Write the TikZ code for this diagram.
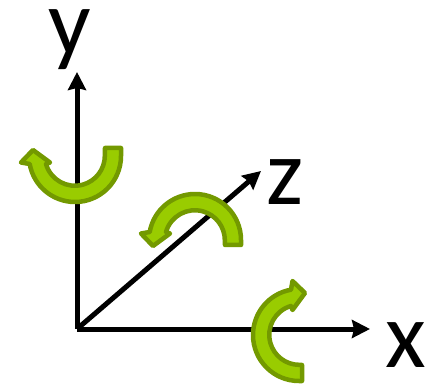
\documentclass[tikz,border=0pt]{standalone}
\usepackage{fontspec}
\setmainfont{Carlito}
\usetikzlibrary{arrows.meta}
\tikzset{
  axis/.style={line width=5pt, -{Stealth[length=18pt,width=18pt,inset=2pt]}},
  axislabel/.style={inner sep=0pt, font=\fontsize{94}{94}\selectfont},
  % one bent arrow, #1 is the length of the straight tail
  turn/.pic={
    \draw[line width=4.5pt, line join=round, draw=turnedge, fill=turnfill]
    (46,#1) -- (46,0) arc[start angle=0, end angle=-170, radius=46]
    -- (-54,-6.5) -- (-42,6) -- (-25,-6.5) -- (-29,-8)
    arc[start angle=-164, end angle=0, radius=30] -- (30,#1) -- cycle;
  },
}
\definecolor{turnfill}{HTML}{99CC00}
\definecolor{turnedge}{HTML}{739900}
\begin{document}
\begin{tikzpicture}[x=1pt,y=1pt]
    \useasboundingbox (0,0) rectangle (428,383);

    \coordinate (origin) at (77,54);
    \coordinate (x_tip) at (370,54);
    \coordinate (y_tip) at (77,311);
    \coordinate (z_tip) at (261,212);

    \node[axislabel] (x_label) at (406,38) {x};
    \node[axislabel] (y_label) at (70,343) {y};
    \node[axislabel] (z_label) at (285,201) {z};

    \draw[axis] (origin) -- (x_tip);
    \draw[axis] (origin) -- (y_tip);
    \draw[axis] (origin) -- (z_tip);

    \path (75,227) pic {turn=8};
    \path (195,143) pic[yscale=-1] {turn=5};
    \path (299,48) pic[rotate=-90] {turn=3};
  \end{tikzpicture}
\end{document}
